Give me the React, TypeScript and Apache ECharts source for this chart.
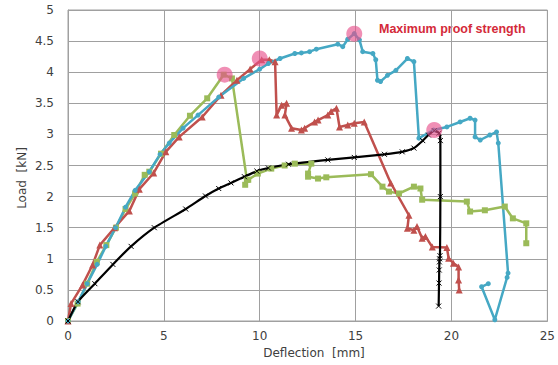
import React, { useEffect, useRef } from "react";
import * as echarts from "echarts";

// Load–deflection curves: [deflection mm, load kN]
const specimenBlue: [number, number][] = [
  [0, 0], [0.53, 0.31], [1.0, 0.6], [1.52, 0.91], [1.97, 1.2], [2.48, 1.5], [3.0, 1.83], [3.5, 2.1],
  [4.24, 2.4], [4.8, 2.68], [5.28, 2.86], [6.0, 3.1], [6.78, 3.31], [7.86, 3.6], [9.16, 3.9], [10.0, 4.05],
  [10.45, 4.14], [11.06, 4.22], [11.83, 4.3], [12.17, 4.31], [12.6, 4.33], [12.95, 4.37], [14.07, 4.45],
  [14.33, 4.41], [14.59, 4.53], [14.93, 4.62], [15.2, 4.52], [15.37, 4.33], [15.9, 4.3], [16.05, 4.2],
  [16.14, 3.87], [16.3, 3.85], [16.66, 3.95], [17.1, 4.03], [17.7, 4.22], [18.04, 4.17], [18.3, 2.94],
  [19.07, 3.07], [19.76, 3.12], [20.45, 3.2], [20.97, 3.26], [21.23, 3.23], [21.23, 2.96], [21.5, 2.91],
  [22.0, 2.99], [22.35, 3.04], [22.44, 2.86], [22.95, 0.77], [22.9, 0.7], [22.26, 0.02], [21.57, 0.55],
  [21.92, 0.6],
];

const specimenRed: [number, number][] = [
  [0, 0], [0.16, 0.28], [0.76, 0.58], [1.28, 0.9], [1.66, 1.22], [2.43, 1.5], [3.2, 1.77], [3.72, 2.12],
  [4.47, 2.38], [5.1, 2.72], [5.8, 2.96], [7.0, 3.28], [7.98, 3.63], [8.81, 3.87], [9.5, 4.05], [10.1, 4.2],
  [10.5, 4.2], [10.8, 4.17], [10.88, 3.31], [11.14, 3.47], [11.4, 3.5], [11.31, 3.31], [11.66, 3.1],
  [12.17, 3.07], [12.34, 3.1], [12.86, 3.2], [13.04, 3.23], [13.55, 3.31], [13.72, 3.37], [14.0, 3.42],
  [14.16, 3.12], [14.59, 3.15], [14.93, 3.18], [15.45, 3.2], [16.83, 2.22], [17.78, 1.7], [17.7, 1.49],
  [18.04, 1.46], [18.2, 1.52], [18.47, 1.33], [18.64, 1.36], [19.0, 1.19], [19.76, 1.18], [19.85, 1.01],
  [20.1, 0.93], [20.37, 0.87], [20.37, 0.66], [20.4, 0.5],
];

const specimenGreen: [number, number][] = [
  [0, 0], [0.5, 0.28], [1.0, 0.6], [1.5, 0.95], [2.0, 1.22], [2.5, 1.5], [3.0, 1.8], [3.5, 2.05],
  [4.0, 2.35], [4.24, 2.4], [4.85, 2.69], [5.54, 2.99], [6.36, 3.3], [7.26, 3.58], [8.12, 3.96],
  [8.55, 3.9], [9.33, 2.27], [9.24, 2.19], [9.4, 2.27], [9.9, 2.37], [10.6, 2.45], [11.3, 2.5],
  [11.83, 2.53], [12.69, 2.53], [12.52, 2.37], [12.52, 2.32], [13.04, 2.29], [13.47, 2.31], [15.8, 2.36],
  [16.4, 2.16], [16.74, 2.08], [17.26, 2.05], [18.04, 2.16], [18.38, 2.13], [18.47, 1.95], [20.8, 1.92],
  [20.97, 1.76], [21.74, 1.78], [22.78, 1.84], [23.2, 1.65], [23.9, 1.57], [23.9, 1.25],
];

const specimenBlack: [number, number][] = [
  [0, 0], [0.52, 0.31], [1.4, 0.6], [2.34, 0.91], [3.29, 1.2], [4.5, 1.5], [6.14, 1.8], [7.17, 2.01],
  [7.86, 2.13], [8.5, 2.22], [9.2, 2.32], [9.85, 2.41], [10.45, 2.46], [11.5, 2.52], [13.55, 2.59],
  [14.93, 2.63], [16.5, 2.68], [17.43, 2.72], [18.04, 2.78], [18.5, 2.9], [18.8, 2.99], [19.1, 3.06],
  [19.35, 3.02], [19.42, 2.9], [19.42, 2.0], [19.4, 1.05], [19.38, 1.0], [19.37, 0.95], [19.36, 0.82],
  [19.35, 0.61], [19.33, 0.24],
];

const maxProofPoints: [number, number][] = [
  [8.17, 3.96], [10.0, 4.22], [14.93, 4.62], [19.1, 3.07],
];

const annotationText = "Maximum proof strength";
const xAxisTitle = "Deflection  [mm]";
const yAxisTitle = "Load  [kN]";

export default function App() {
  const ref = useRef<HTMLDivElement>(null);
  useEffect(() => {
    if (!ref.current) return;
    const chart = echarts.init(ref.current, undefined, { renderer: "svg" });
    const font = "DejaVu Sans";
    const gridColor = "#a0a0a0";
    chart.setOption({
      animation: false,
      backgroundColor: "#ffffff",
      grid: {
        left: 68, right: 7, top: 10, bottom: 44,
        show: true, borderColor: gridColor, borderWidth: 1,
      },
      xAxis: {
        type: "value", min: 0, max: 25, interval: 5,
        axisLine: { show: true, lineStyle: { color: gridColor } },
        axisTick: { show: false },
        splitLine: { show: true, lineStyle: { color: gridColor, width: 1 } },
        axisLabel: { color: "#404040", fontFamily: font, fontSize: 12, margin: 9 },
      },
      yAxis: {
        type: "value", min: 0, max: 5, interval: 0.5,
        axisLine: { show: true, lineStyle: { color: gridColor } },
        axisTick: { show: false },
        splitLine: { show: true, lineStyle: { color: gridColor, width: 1 } },
        axisLabel: { color: "#404040", fontFamily: font, fontSize: 12, margin: 14 },
      },
      graphic: [
        {
          type: "text", left: 379, top: 22,
          style: { text: annotationText, fill: "#d42a3a", font: "bold 12.5px 'Liberation Sans'" },
        },
        {
          type: "text", x: 314, y: 353,
          style: { text: xAxisTitle, fill: "#404040", font: "12px 'DejaVu Sans'", align: "center", verticalAlign: "middle" },
        },
        {
          type: "text", x: 22, y: 178, rotation: Math.PI / 2,
          style: { text: yAxisTitle, fill: "#404040", font: "12px 'DejaVu Sans'", align: "center", verticalAlign: "middle" },
        },
      ],
      series: [
        {
          name: "Green", type: "line", data: specimenGreen, symbol: "rect", symbolSize: 6,
          lineStyle: { color: "#9bbb59", width: 2.5 }, itemStyle: { color: "#9bbb59" },
        },
        {
          name: "Red", type: "line", data: specimenRed, symbol: "triangle", symbolSize: 7,
          lineStyle: { color: "#c0504d", width: 2.5 }, itemStyle: { color: "#c0504d" },
        },
        {
          name: "Blue", type: "line", data: specimenBlue, symbol: "circle", symbolSize: 5,
          lineStyle: { color: "#45a8c4", width: 2.5 }, itemStyle: { color: "#45a8c4" },
        },
        {
          name: "Black", type: "line", data: specimenBlack, smooth: 0.2,
          symbol: "path://M0,0L10,10M10,0L0,10", symbolSize: 5,
          lineStyle: { color: "#000000", width: 2.2 },
          itemStyle: { color: "#000000", borderColor: "#000000", borderWidth: 1 },
        },
        {
          name: "Maximum proof strength", type: "scatter", data: maxProofPoints, symbol: "circle", symbolSize: 16,
          itemStyle: { color: "rgba(232, 80, 140, 0.8)" }, z: 5,
        },
      ],
    });
    return () => chart.dispose();
  }, []);
  return <div ref={ref} style={{ position: "fixed", left: 0, top: 0, width: 558, height: 365 }} />;
}
